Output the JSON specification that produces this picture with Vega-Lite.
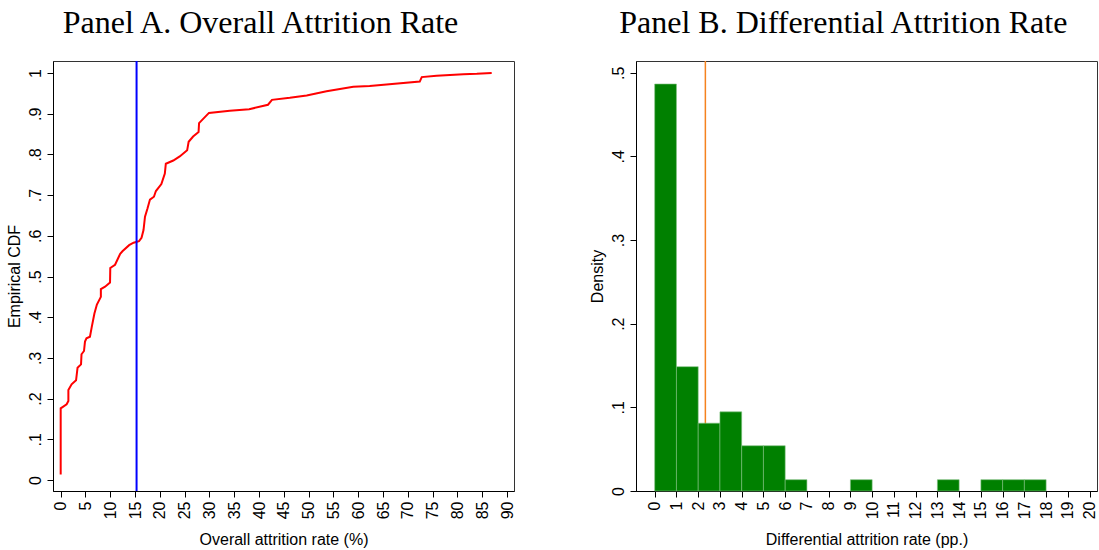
{
  "$schema": "https://vega.github.io/schema/vega-lite/v6.json",
  "padding": {"left": 5, "top": 6, "right": 0, "bottom": 0},
  "background": "white",
  "spacing": 72,
  "config": {
    "view": {"stroke": "#333333", "strokeWidth": 1},
    "axis": {
      "labelFont": "Liberation Sans", "titleFont": "Liberation Sans",
      "labelFontSize": 16, "titleFontSize": 16, "titleFontWeight": "normal",
      "labelColor": "#000000", "titleColor": "#000000",
      "domainColor": "#000000", "tickColor": "#000000",
      "tickSize": 6, "grid": false, "labelPadding": 4, "titlePadding": 8,
      "labelOverlap": false
    },
    "axisX": {"titlePadding": 13},
    "axisY": {"titlePadding": 5},
    "title": {"font": "Liberation Serif", "fontSize": 32, "fontWeight": "normal", "color": "#000000", "anchor": "middle", "frame": "bounds", "offset": 20}
  },
  "datasets": {
    "cdf": [
      {"rate": 0, "cdf": 0.0135}, {"rate": 0, "cdf": 0.176}, {"rate": 1.2, "cdf": 0.186}, {"rate": 1.55, "cdf": 0.194},
      {"rate": 1.55, "cdf": 0.221}, {"rate": 2.2, "cdf": 0.235}, {"rate": 3.1, "cdf": 0.245}, {"rate": 3.4, "cdf": 0.276},
      {"rate": 4.1, "cdf": 0.284}, {"rate": 4.2, "cdf": 0.309}, {"rate": 4.7, "cdf": 0.317}, {"rate": 4.9, "cdf": 0.34},
      {"rate": 5.2, "cdf": 0.348}, {"rate": 5.9, "cdf": 0.352}, {"rate": 6.25, "cdf": 0.375}, {"rate": 6.8, "cdf": 0.409},
      {"rate": 7.3, "cdf": 0.431}, {"rate": 8.1, "cdf": 0.45}, {"rate": 8.1, "cdf": 0.469}, {"rate": 8.95, "cdf": 0.475},
      {"rate": 9.95, "cdf": 0.485}, {"rate": 10.0, "cdf": 0.521}, {"rate": 10.96, "cdf": 0.529}, {"rate": 12.0, "cdf": 0.556},
      {"rate": 12.45, "cdf": 0.562}, {"rate": 13.8, "cdf": 0.577}, {"rate": 14.7, "cdf": 0.583}, {"rate": 15.8, "cdf": 0.587},
      {"rate": 16.3, "cdf": 0.595}, {"rate": 16.7, "cdf": 0.614}, {"rate": 17.0, "cdf": 0.647}, {"rate": 17.5, "cdf": 0.667},
      {"rate": 18.0, "cdf": 0.689}, {"rate": 18.8, "cdf": 0.696}, {"rate": 19.2, "cdf": 0.71}, {"rate": 20.3, "cdf": 0.727},
      {"rate": 21.0, "cdf": 0.753}, {"rate": 21.2, "cdf": 0.777}, {"rate": 22.7, "cdf": 0.785}, {"rate": 24.0, "cdf": 0.795},
      {"rate": 25.5, "cdf": 0.81}, {"rate": 25.8, "cdf": 0.831}, {"rate": 26.7, "cdf": 0.844}, {"rate": 27.8, "cdf": 0.855},
      {"rate": 27.9, "cdf": 0.877}, {"rate": 29.9, "cdf": 0.902}, {"rate": 34.1, "cdf": 0.907}, {"rate": 38.0, "cdf": 0.911},
      {"rate": 41.8, "cdf": 0.922}, {"rate": 42.6, "cdf": 0.934}, {"rate": 46.2, "cdf": 0.939}, {"rate": 49.6, "cdf": 0.945},
      {"rate": 53.6, "cdf": 0.955}, {"rate": 59.0, "cdf": 0.966}, {"rate": 62.3, "cdf": 0.968}, {"rate": 65.7, "cdf": 0.972},
      {"rate": 72.4, "cdf": 0.979}, {"rate": 72.8, "cdf": 0.99}, {"rate": 75.8, "cdf": 0.993}, {"rate": 81.2, "cdf": 0.997},
      {"rate": 83.9, "cdf": 0.998}, {"rate": 86.9, "cdf": 1.0}
    ],
    "hist": [
      {"bin_start": 0, "bin_end": 1, "density": 0.4865},
      {"bin_start": 1, "bin_end": 2, "density": 0.1486},
      {"bin_start": 2, "bin_end": 3, "density": 0.0811},
      {"bin_start": 3, "bin_end": 4, "density": 0.0946},
      {"bin_start": 4, "bin_end": 5, "density": 0.0541},
      {"bin_start": 5, "bin_end": 6, "density": 0.0541},
      {"bin_start": 6, "bin_end": 7, "density": 0.0135},
      {"bin_start": 9, "bin_end": 10, "density": 0.0135},
      {"bin_start": 13, "bin_end": 14, "density": 0.0135},
      {"bin_start": 15, "bin_end": 16, "density": 0.0135},
      {"bin_start": 16, "bin_end": 17, "density": 0.0135},
      {"bin_start": 17, "bin_end": 18, "density": 0.0135}
    ],
    "meanA": [{"value": 15.3}],
    "meanB": [{"value": 2.33}]
  },
  "hconcat": [
    {
      "title": "Panel A. Overall Attrition Rate",
      "width": 461, "height": 430,
      "layer": [
        {
          "data": {"name": "cdf"},
          "mark": {"type": "line", "color": "#ff0000", "strokeWidth": 2},
          "encoding": {
            "x": {"field": "rate", "type": "quantitative",
                  "scale": {"domain": [-1.55, 91.4], "nice": false, "zero": false},
                  "axis": {"values": [0,5,10,15,20,25,30,35,40,45,50,55,60,65,70,75,80,85,90], "labelAngle": -90, "labelOverlap": false, "title": "Overall attrition rate (%)"}},
            "y": {"field": "cdf", "type": "quantitative",
                  "scale": {"domain": [-0.027, 1.0295], "nice": false, "zero": false},
                  "axis": {"values": [0,0.1,0.2,0.3,0.4,0.5,0.6,0.7,0.8,0.9,1], "labelExpr": "replace(format(datum.value, '.1~f'), '0.', '.')", "labelAngle": -90, "labelOverlap": false, "title": "Empirical CDF"}},
            "order": {"field": "cdf", "type": "quantitative"}
          }
        },
        {
          "data": {"name": "meanA"},
          "mark": {"type": "rule", "color": "#0000ff", "strokeWidth": 2},
          "encoding": {"x": {"field": "value", "type": "quantitative",
                  "scale": {"domain": [-1.55, 91.4], "nice": false, "zero": false},
                  "axis": {"values": [0,5,10,15,20,25,30,35,40,45,50,55,60,65,70,75,80,85,90], "labelAngle": -90, "labelOverlap": false, "title": "Overall attrition rate (%)"}}}
        }
      ]
    },
    {
      "title": "Panel B. Differential Attrition Rate",
      "width": 461, "height": 430,
      "layer": [
        {
          "data": {"name": "meanB"},
          "mark": {"type": "rule", "color": "#f5821f", "strokeWidth": 1.5},
          "encoding": {"x": {"field": "value", "type": "quantitative",
                  "scale": {"domain": [-0.86, 20.34], "nice": false, "zero": false},
                  "axis": {"values": [0,1,2,3,4,5,6,7,8,9,10,11,12,13,14,15,16,17,18,19,20], "labelAngle": -90, "labelOverlap": false, "title": "Differential attrition rate (pp.)"}}}
        },
        {
          "data": {"name": "hist"},
          "mark": {"type": "rect", "color": "#008000", "stroke": "#7fc07f", "strokeWidth": 0.6},
          "encoding": {
            "x": {"field": "bin_start", "type": "quantitative",
                  "scale": {"domain": [-0.86, 20.34], "nice": false, "zero": false},
                  "axis": {"values": [0,1,2,3,4,5,6,7,8,9,10,11,12,13,14,15,16,17,18,19,20], "labelAngle": -90, "labelOverlap": false, "title": "Differential attrition rate (pp.)"}},
            "x2": {"field": "bin_end"},
            "y": {"field": "density", "type": "quantitative",
                  "scale": {"domain": [0, 0.514], "nice": false},
                  "axis": {"values": [0,0.1,0.2,0.3,0.4,0.5], "labelExpr": "replace(format(datum.value, '.1~f'), '0.', '.')", "labelAngle": -90, "labelOverlap": false, "title": "Density"}},
            "y2": {"datum": 0}
          }
        }
      ]
    }
  ]
}
